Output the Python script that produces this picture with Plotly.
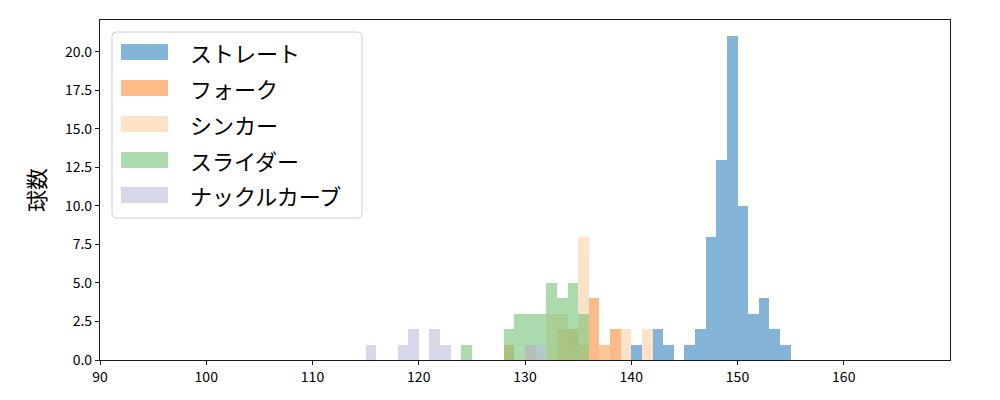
import plotly.graph_objects as go

# ---- data (bin start in km/h, counts per 1 km/h bin) ----
pitch_names = ["ストレート", "フォーク", "シンカー", "スライダー", "ナックルカーブ"]

straight_bins = [140, 142, 143, 145, 146, 147, 148, 149, 150, 151, 152, 153, 154]
straight_counts = [1, 2, 1, 1, 2, 8, 13, 21, 10, 3, 4, 2, 1]

fork_bins = [128, 130, 133, 134, 135, 136, 137, 138]
fork_counts = [1, 1, 2, 2, 1, 4, 1, 2]

sinker_bins = [132, 133, 134, 135, 137, 139, 141]
sinker_counts = [3, 3, 1, 8, 1, 2, 2]

slider_bins = [124, 128, 129, 130, 131, 132, 133, 134, 135]
slider_counts = [1, 2, 3, 3, 3, 5, 4, 5, 3]

kc_bins = [115, 118, 119, 121, 122, 130, 131]
kc_counts = [1, 1, 2, 2, 1, 1, 1]

x_ticks = [90, 100, 110, 120, 130, 140, 150, 160]
y_ticks = [0, 2.5, 5, 7.5, 10, 12.5, 15, 17.5, 20]
y_label = "球数"

colors = ["#3182bd", "#fd8d3c", "#fdd0a2", "#74c476", "#bcbddc"]
series = [
    (straight_bins, straight_counts),
    (fork_bins, fork_counts),
    (sinker_bins, sinker_counts),
    (slider_bins, slider_counts),
    (kc_bins, kc_counts),
]

FONT = "Noto Sans CJK JP, DejaVu Sans, sans-serif"
BIN_W = 1.0

fig = go.Figure()
for name, (bins, counts), col in zip(pitch_names, series, colors):
    fig.add_trace(go.Bar(
        x=[b + BIN_W / 2 for b in bins], y=counts, width=BIN_W,
        name=name, marker=dict(color=col, line=dict(width=0)),
        opacity=0.6, showlegend=False,
    ))

# page is rendered with an 8px body margin; target plot area on page: x 100..950, y 20..360
OFF = 8
W, H = 1000, 400
PX0, PX1, PY0, PY1 = 100, 950, 20, 360
L = PX0 - OFF
T = PY0 - OFF
pw, ph = PX1 - PX0, PY1 - PY0
R = W - L - pw
B = H - T - ph

def px(x):
    return (x - PX0) / pw

def py(y):
    return (PY1 - y) / ph

shapes = []
annotations = []

# legend box with rounded corners (in paper coords)
bx0, bx1, by0, by1 = 112, 362, 32, 218
r = 4
rx, ry = r / pw, r / ph
X0, X1, Y0, Y1 = px(bx0), px(bx1), py(by1), py(by0)
path = (f"M {X0+rx},{Y0} L {X1-rx},{Y0} Q {X1},{Y0} {X1},{Y0+ry} "
        f"L {X1},{Y1-ry} Q {X1},{Y1} {X1-rx},{Y1} L {X0+rx},{Y1} "
        f"Q {X0},{Y1} {X0},{Y1-ry} L {X0},{Y0+ry} Q {X0},{Y0} {X0+rx},{Y0} Z")
shapes.append(dict(type="path", xref="paper", yref="paper", path=path,
                   line=dict(color="#d0d0d0", width=1),
                   fillcolor="rgba(255,255,255,0.8)", layer="above"))

row_centers = [52, 88, 124, 160, 195]
for name, col, cy in zip(pitch_names, colors, row_centers):
    shapes.append(dict(type="rect", xref="paper", yref="paper",
                       x0=px(121), x1=px(168), y0=py(cy + 8), y1=py(cy - 8),
                       fillcolor=col, opacity=0.6, line=dict(width=0), layer="above"))
    annotations.append(dict(xref="paper", yref="paper", x=px(188), y=py(cy),
                            text=name, showarrow=False, xanchor="left",
                            yanchor="middle", font=dict(size=22, color="black", family=FONT)))

annotations.append(dict(xref="paper", yref="paper", x=px(35), y=0.5, text=y_label,
                        textangle=-90, showarrow=False, xanchor="center", yanchor="middle",
                        font=dict(size=22, color="black", family=FONT)))

axis_common = dict(showline=True, mirror=True, linecolor="#1a1a1a", linewidth=1.2,
                   ticks="outside", ticklen=4, tickwidth=1, tickcolor="#1a1a1a",
                   showgrid=False, zeroline=False,
                   tickfont=dict(size=14, color="black", family=FONT))

fig.update_layout(
    width=W, height=H, autosize=False,
    margin=dict(l=L, r=R, t=T, b=B, pad=0),
    plot_bgcolor="white", paper_bgcolor="white",
    barmode="overlay", bargap=0,
    shapes=shapes, annotations=annotations,
    xaxis=dict(range=[90, 170], tickvals=x_ticks,
               ticktext=[str(v) for v in x_ticks], **axis_common),
    yaxis=dict(range=[0, 22.05], tickvals=y_ticks,
               ticktext=[f"{v:.1f}" for v in y_ticks], **axis_common),
)

fig.write_html("out.html")
